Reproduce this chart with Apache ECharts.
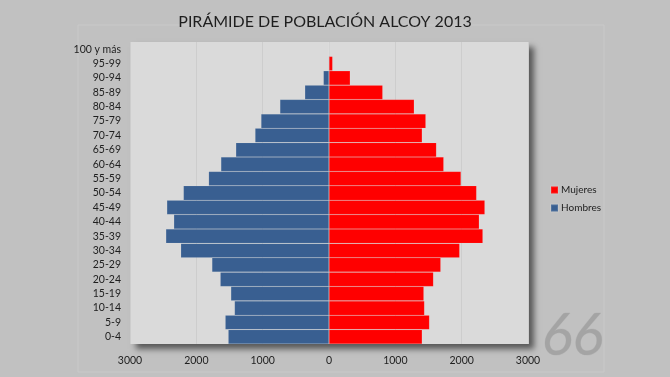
<!DOCTYPE html>
<html>
<head>
<meta charset="utf-8">
<script src="https://cdn.jsdelivr.net/npm/echarts@6/dist/echarts.min.js"></script>
<style>
  html, body { margin: 0; padding: 0; background: #c1c1c1; }
  #main { width: 670px; height: 377px; }
</style>
</head>
<body>
<div id="main"></div>
<script>
// grupos de edad (de abajo a arriba)
var edades = ['0-4', '5-9', '10-14', '15-19', '20-24', '25-29', '30-34', '35-39', '40-44', '45-49',
  '50-54', '55-59', '60-64', '65-69', '70-74', '75-79', '80-84', '85-89', '90-94', '95-99', '100 y más'];
var mujeres = [1405, 1515, 1440, 1430, 1575, 1685, 1970, 2320, 2265, 2350,
  2225, 1990, 1730, 1620, 1405, 1460, 1285, 810, 320, 55, 6];
var hombres = [1520, 1565, 1425, 1480, 1640, 1765, 2235, 2460, 2340, 2445,
  2195, 1815, 1630, 1405, 1115, 1025, 740, 365, 85, 10, 2];
var ticks = [-3000, -2000, -1000, 0, 1000, 2000, 3000];

var chart = echarts.init(document.getElementById('main'));
var fuente = 'Lato';

var option = {
  backgroundColor: '#c1c1c1',
  animation: false,
  textStyle: { fontFamily: fuente },
  title: {
    text: 'PIRÁMIDE DE POBLACIÓN ALCOY 2013',
    left: 320,
    top: 9,
    textAlign: 'center',
    textStyle: { fontFamily: fuente, fontSize: 16, fontWeight: 'normal', color: '#1e1e1e' }
  },
  legend: {
    orient: 'vertical',
    left: 545,
    top: 180,
    itemWidth: 7,
    itemHeight: 7,
    itemGap: 8,
    icon: 'rect',
    data: ['Mujeres', 'Hombres'],
    textStyle: { fontFamily: fuente, fontSize: 10, color: '#1e1e1e', padding: [0, 0, 0, -2] }
  },
  grid: {
    left: 130, right: 142, top: 42, bottom: 33,
    show: true,
    backgroundColor: '#dadada',
    borderWidth: 0,
    shadowColor: 'rgba(0,0,0,0.55)',
    shadowBlur: 6,
    shadowOffsetX: 6,
    shadowOffsetY: 5
  },
  xAxis: {
    type: 'value',
    min: ticks[0],
    max: ticks[ticks.length - 1],
    interval: 1000,
    axisLine: { show: false },
    axisTick: { show: false },
    splitLine: { show: true, lineStyle: { color: '#cdcdcd', width: 1 } },
    axisLabel: {
      margin: 11,
      fontSize: 10.5,
      color: '#1e1e1e',
      formatter: function (v) { return Math.abs(v); }
    }
  },
  yAxis: {
    type: 'category',
    data: edades,
    axisLine: { show: false },
    axisTick: { show: false },
    splitLine: { show: false },
    axisLabel: { margin: 9, fontSize: 10.5, color: '#1e1e1e' }
  },
  graphic: [
    {
      type: 'rect',
      shape: { x: 78, y: 25, width: 526, height: 347 },
      style: { fill: 'none', stroke: '#c9c9c9', lineWidth: 1 },
      silent: true,
      z: -1
    },
    {
      // marca de agua "66"
      type: 'text',
      left: 541,
      top: 307,
      style: {
        text: '66',
        font: 'italic 58px "Lato"',
        fill: '#a4a4a4',
        stroke: '#b8b8b8',
        lineWidth: 0.8,
        shadowColor: 'rgba(0,0,0,0.3)',
        shadowBlur: 2,
        shadowOffsetX: 1,
        shadowOffsetY: 1
      },
      silent: true
    }
  ],
  series: [
    {
      name: 'Mujeres',
      type: 'bar',
      stack: 'total',
      barCategoryGap: 0,
      data: mujeres,
      itemStyle: { color: '#ff0000', borderColor: 'rgba(255,255,255,0.12)', borderWidth: 0.6 }
    },
    {
      name: 'Hombres',
      type: 'bar',
      stack: 'total',
      barCategoryGap: 0,
      data: hombres.map(function (v) { return -v; }),
      itemStyle: { color: '#395f91', borderColor: 'rgba(255,255,255,0.12)', borderWidth: 0.6 }
    }
  ]
};

chart.setOption(option);
</script>
</body>
</html>
